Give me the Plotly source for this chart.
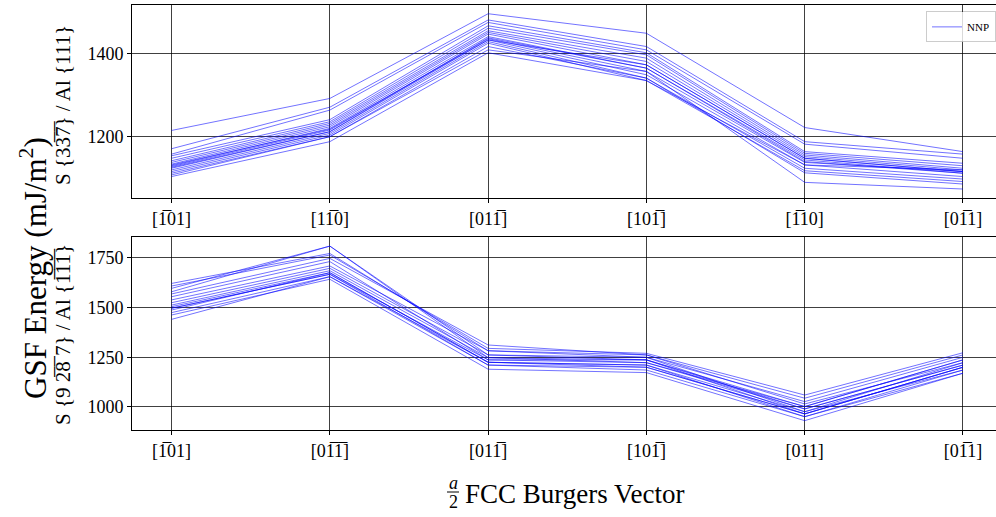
import plotly.graph_objects as go
from plotly.subplots import make_subplots

OB = "\u0305"  # combining overline for negative Miller indices

# Burgers-vector tick labels for each slip-plane pair
top_ticks = ["[1" + OB + "01]", "[11" + OB + "0]", "[011" + OB + "]",
             "[101" + OB + "]", "[1" + OB + "10]", "[01" + OB + "1]"]
bottom_ticks = ["[1" + OB + "01]", "[01" + OB + "1" + OB + "]", "[011" + OB + "]",
                "[101" + OB + "]", "[011]", "[01" + OB + "1]"]
positions = [0, 1, 2, 3, 4, 5]

# GSF energies (mJ/m^2), one row per NNP model: S {33-7-} / Al {111}
top_energy = [
    [1214, 1291, 1495, 1448, 1221, 1163],
    [1170, 1270, 1480, 1416, 1187, 1157],
    [1157, 1263, 1474, 1408, 1181, 1147],
    [1153, 1240, 1466, 1401, 1163, 1135],
    [1147, 1235, 1460, 1396, 1159, 1129],
    [1141, 1231, 1454, 1388, 1155, 1123],
    [1137, 1227, 1450, 1380, 1151, 1119],
    [1133, 1223, 1446, 1372, 1147, 1115],
    [1129, 1219, 1440, 1364, 1143, 1111],
    [1127, 1215, 1435, 1356, 1137, 1115],
    [1123, 1211, 1432, 1348, 1131, 1103],
    [1119, 1207, 1428, 1340, 1123, 1097],
    [1115, 1203, 1424, 1334, 1117, 1091],
    [1111, 1199, 1416, 1340, 1112, 1085],
    [1107, 1199, 1408, 1356, 1089, 1073],
    [1103, 1187, 1401, 1334, 1131, 1119],
    [1131, 1217, 1432, 1372, 1147, 1115],
    [1125, 1211, 1437, 1364, 1139, 1111],
]

# GSF energies (mJ/m^2), one row per NNP model: S {9 2-8- 7} / Al {1-1-1-}
bottom_energy = [
    [1622, 1773, 1283, 1262, 1044, 1262],
    [1609, 1765, 1295, 1270, 1060, 1273],
    [1597, 1810, 1262, 1250, 1027, 1250],
    [1580, 1810, 1248, 1237, 1002, 1237],
    [1569, 1748, 1312, 1262, 1015, 1223],
    [1555, 1732, 1237, 1223, 990, 1211],
    [1539, 1710, 1283, 1250, 976, 1223],
    [1525, 1698, 1262, 1237, 965, 1200],
    [1513, 1686, 1248, 1223, 1002, 1237],
    [1505, 1676, 1225, 1211, 951, 1186],
    [1497, 1668, 1237, 1237, 990, 1211],
    [1497, 1668, 1211, 1200, 965, 1200],
    [1488, 1676, 1225, 1211, 976, 1186],
    [1475, 1656, 1211, 1186, 951, 1170],
    [1463, 1643, 1190, 1173, 931, 1170],
    [1441, 1656, 1225, 1200, 965, 1200],
]

FONT = "Liberation Serif, DejaVu Serif, serif"
LINE = dict(color="rgba(0,0,255,0.62)", width=0.9)

fig = make_subplots(rows=2, cols=1)

for i, row in enumerate(top_energy):
    fig.add_trace(go.Scatter(x=positions, y=row, mode="lines", line=LINE,
                             name="NNP", showlegend=(i == 0)), row=1, col=1)
for row in bottom_energy:
    fig.add_trace(go.Scatter(x=positions, y=row, mode="lines", line=LINE,
                             name="NNP", showlegend=False), row=2, col=1)

axis_common = dict(showgrid=True, gridcolor="rgba(0,0,0,0.75)", gridwidth=1,
                   showline=True, linecolor="black", linewidth=1,
                   ticks="outside", ticklen=4, tickcolor="black",
                   tickfont=dict(family=FONT, size=18, color="black"),
                   zeroline=False)

fig.update_xaxes(**axis_common, mirror=True, range=[-0.25, 5.2086],
                 tickmode="array", tickvals=positions)
fig.update_xaxes(ticktext=top_ticks, domain=[0, 1], row=1, col=1)
fig.update_xaxes(ticktext=bottom_ticks, domain=[0, 1], row=2, col=1)

fig.update_yaxes(**axis_common, mirror=False)
fig.update_yaxes(range=[1051.4, 1516], dtick=200, tick0=1000,
                 domain=[0.5459, 1], row=1, col=1)
fig.update_yaxes(range=[884, 1855.7], dtick=250, tick0=1000,
                 domain=[0, 0.4541], row=2, col=1)


def px_x(px):
    return (px - 132) / 864


def px_y(py):
    return (430 - py) / 425


ann = [
    dict(text="GSF Energy (mJ/m<sup>2</sup>)", x=px_x(33), y=px_y(268), textangle=-90,
         font=dict(family=FONT, size=31, color="black")),
    dict(text="S {33" + OB + "7" + OB + "} / Al {111}", x=px_x(63), y=px_y(105),
         textangle=-90, font=dict(family=FONT, size=21, color="black")),
    dict(text="S {9 2" + OB + "8" + OB + " 7} / Al {1" + OB + "1" + OB + "1" + OB + "}",
         x=px_x(63), y=px_y(335), textangle=-90,
         font=dict(family=FONT, size=21, color="black")),
    dict(text="FCC Burgers Vector", x=px_x(575), y=px_y(494),
         font=dict(family=FONT, size=27, color="black")),
    dict(text="<i>a</i>", x=px_x(453), y=px_y(483),
         font=dict(family=FONT, size=18, color="black")),
    dict(text="2", x=px_x(453), y=px_y(502),
         font=dict(family=FONT, size=18, color="black")),
]
for a in ann:
    a.update(xref="paper", yref="paper", showarrow=False,
             xanchor="center", yanchor="middle")
fig.update_layout(annotations=ann)

# fraction bar of a/2
fig.add_shape(type="line", xref="paper", yref="paper",
              x0=px_x(447), x1=px_x(459), y0=px_y(492), y1=px_y(492),
              line=dict(color="black", width=1))

fig.update_layout(
    width=996, height=517,
    margin=dict(l=132, r=0, t=5, b=87),
    paper_bgcolor="white", plot_bgcolor="white",
    font=dict(family=FONT, color="black"),
    legend=dict(x=1.0, y=0.985, xanchor="right", yanchor="top",
                bgcolor="rgba(255,255,255,0.8)", bordercolor="rgba(0,0,0,0.2)",
                borderwidth=1, font=dict(family=FONT, size=11, color="black"),
                itemwidth=30, tracegroupgap=0),
)

fig.write_html("out.html")
